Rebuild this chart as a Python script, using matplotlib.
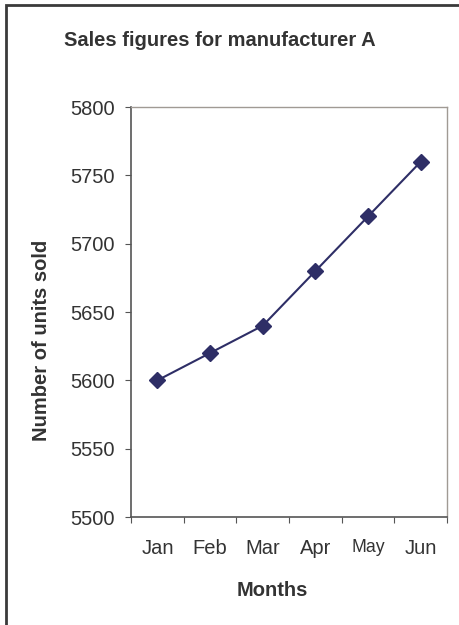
import numpy as np
import matplotlib.pyplot as plt
from matplotlib.patches import Rectangle

# дані графіка
months = ['Jan', 'Feb', 'Mar', 'Apr', 'May', 'Jun']
units_sold = [5600, 5620, 5640, 5680, 5720, 5760]
y_ticks = [5500, 5550, 5600, 5650, 5700, 5750, 5800]

plt.rcParams['font.family'] = ['Liberation Sans', 'DejaVu Sans']
text_color = '#333333'
fs = 14.5

fig = plt.figure(figsize=(4.6, 6.25), dpi=100)
ax = fig.add_axes([0.285, 0.1728, 0.687, 0.656])

# рамка навколо всього рисунку (обрізана справа і знизу)
fig.patches.append(Rectangle((0.012, -0.05), 1.1, 1.042, transform=fig.transFigure,
                             fill=False, edgecolor='#3a3a3a', linewidth=2))

x = np.arange(len(months))
ax.plot(x, units_sold, color='#2e2e66', linewidth=1.5, marker='D', markersize=8.5)

ax.set_xlim(-0.5, len(months) - 0.5)
ax.set_ylim(y_ticks[0], y_ticks[-1])
ax.set_yticks(y_ticks)
ax.set_yticklabels([str(v) for v in y_ticks], fontsize=fs, color=text_color)

ax.set_xticks(np.arange(-0.5, len(months)), minor=False)
ax.set_xticklabels([])
ax.set_xticks(x, minor=True)
ax.set_xticklabels(months, minor=True, fontsize=fs, color=text_color)
ax.get_xticklabels(minor=True)[4].set_fontsize(12.7)
ax.tick_params(axis='x', which='minor', length=0, pad=16)
ax.tick_params(axis='x', which='major', length=4.5, color='#555555', direction='out')
ax.tick_params(axis='y', length=4.5, color='#555555', direction='out', pad=7)

for s in ['top', 'right']:
    ax.spines[s].set_color('#a09a94')
    ax.spines[s].set_linewidth(1)
for s in ['left', 'bottom']:
    ax.spines[s].set_color('#555555')
    ax.spines[s].set_linewidth(1.2)

fig.text(0.591, 0.056, 'Months', fontsize=fs, fontweight='bold', color=text_color,
         ha='center', va='center')
fig.text(0.091, 0.456, 'Number of units sold', fontsize=fs, fontweight='bold', color=text_color,
         ha='center', va='center', rotation=90)
fig.text(0.478, 0.936, 'Sales figures for manufacturer A', fontsize=fs, fontweight='bold',
         color=text_color, ha='center', va='center')

fig.savefig('out.png', dpi=100)
